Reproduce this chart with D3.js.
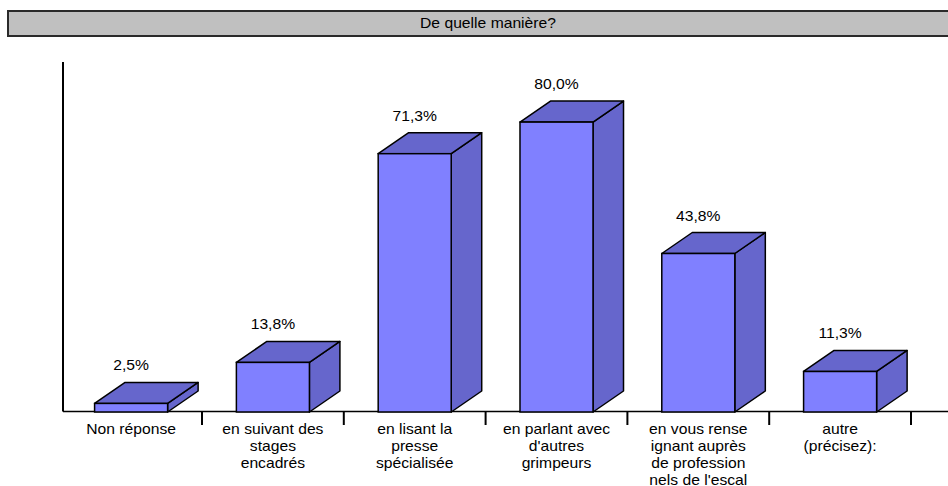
<!DOCTYPE html>
<html>
<head>
<meta charset="utf-8">
<script src="https://cdn.jsdelivr.net/npm/d3@7"></script>
<style>
    body { margin: 0; background: #fff; }
    text { font-family: "Liberation Sans", Arial, sans-serif; fill: #000; }
</style>
</head>
<body>
<svg id="chart" width="948" height="486"></svg>
<script>
'use strict';

const chartTitle = "De quelle manière?";
const categories = [
    ["Non réponse"],
    ["en suivant des", "stages", "encadrés"],
    ["en lisant la", "presse", "spécialisée"],
    ["en parlant avec", "d'autres", "grimpeurs"],
    ["en vous rense", "ignant auprès", "de profession", "nels de l'escal"],
    ["autre", "(précisez):"]
];
const values = [2.5, 13.8, 71.3, 80.0, 43.8, 11.3];
const valueLabels = ["2,5%", "13,8%", "71,3%", "80,0%", "43,8%", "11,3%"];

const _depthX = 30.5;
const _depthY = 21;
const _stretch = 1.12; // the reference text is a bit wider than Arial

const svg = d3.select("#chart");
const keys = categories.map(function (c, i) { return "c" + i; });

const x = d3.scaleBand()
    .domain(keys)
    .range([60.2, 911])
    .paddingInner(0.485)
    .paddingOuter(0.2425);

const y = d3.scaleLinear()
    .domain([0, 100])
    .range([412.5, 49.5]);

// title bar
svg.append("rect")
    .attr("x", 8).attr("y", 11)
    .attr("width", 950).attr("height", 25)
    .attr("fill", "#c0c0c0")
    .attr("stroke", "#2a2a2a")
    .attr("stroke-width", 2);
svg.append("text")
    .attr("transform", "translate(488,28) scale(" + _stretch + ",1)")
    .attr("text-anchor", "middle")
    .style("font-size", "14px")
    .text(chartTitle);

// axes
const baseY = 411.5;
svg.append("line")
    .attr("x1", 63).attr("y1", 62).attr("x2", 63).attr("y2", baseY)
    .attr("stroke", "#000").attr("stroke-width", 2);
svg.append("line")
    .attr("x1", 63).attr("y1", baseY).attr("x2", 948).attr("y2", baseY)
    .attr("stroke", "#000").attr("stroke-width", 1.5);

svg.append("g").selectAll("line")
    .data(keys)
    .join("line")
    .attr("x1", function (d) { return x(d) + x.bandwidth() + x.step() * x.paddingInner() / 2; })
    .attr("x2", function (d) { return x(d) + x.bandwidth() + x.step() * x.paddingInner() / 2; })
    .attr("y1", baseY).attr("y2", 425)
    .attr("stroke", "#000").attr("stroke-width", 2);

// bars
const bars = svg.append("g").selectAll("g")
    .data(values)
    .join("g");

bars.append("path") // side
    .attr("d", function (v, i) {
        const x1 = x(keys[i]) + x.bandwidth(), yt = y(v), yb = y(0) - 0.5;
        return "M" + x1 + "," + yb + "L" + (x1 + _depthX) + "," + (yb - _depthY) +
            "L" + (x1 + _depthX) + "," + (yt - _depthY) + "L" + x1 + "," + yt + "Z";
    })
    .attr("fill", "#6666cc").attr("stroke", "#000").attr("stroke-width", 1.5)
    .attr("stroke-linejoin", "round");

bars.append("path") // top
    .attr("d", function (v, i) {
        const x0 = x(keys[i]), x1 = x0 + x.bandwidth(), yt = y(v);
        return "M" + x0 + "," + yt + "L" + (x0 + _depthX) + "," + (yt - _depthY) +
            "L" + (x1 + _depthX) + "," + (yt - _depthY) + "L" + x1 + "," + yt + "Z";
    })
    .attr("fill", "#6666cc").attr("stroke", "#000").attr("stroke-width", 1.5)
    .attr("stroke-linejoin", "round");

bars.append("rect") // front
    .attr("x", function (v, i) { return x(keys[i]); })
    .attr("y", function (v) { return y(v); })
    .attr("width", x.bandwidth())
    .attr("height", function (v) { return y(0) - 0.5 - y(v); })
    .attr("fill", "#8080ff").attr("stroke", "#000").attr("stroke-width", 1.5);

// value labels
bars.append("text")
    .attr("transform", function (v, i) {
        return "translate(" + (x(keys[i]) + x.bandwidth() / 2) + "," + (y(v) - _depthY - 12) + ") scale(" + _stretch + ",1)";
    })
    .attr("text-anchor", "middle")
    .style("font-size", "14px")
    .text(function (v, i) { return valueLabels[i]; });

// category labels
const catGroups = svg.append("g").selectAll("g")
    .data(categories)
    .join("g");

catGroups.each(function (lines, i) {
    const cx = x(keys[i]) + x.bandwidth() / 2;
    d3.select(this).selectAll("text")
        .data(lines)
        .join("text")
        .attr("transform", function (d, j) {
            return "translate(" + cx + "," + (434 + j * 17) + ") scale(" + _stretch + ",1)";
        })
        .attr("text-anchor", "middle")
        .style("font-size", "14px")
        .text(function (d) { return d; });
});
</script>
</body>
</html>
